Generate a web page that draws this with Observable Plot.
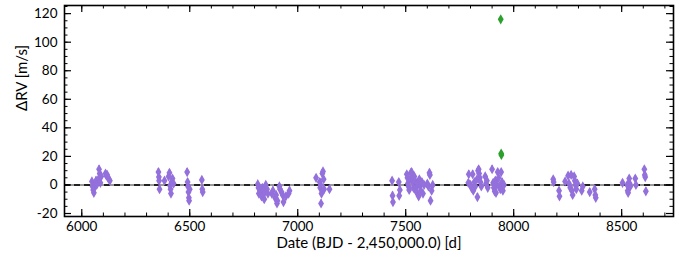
<!DOCTYPE html>
<html><head><meta charset="utf-8">
<script src="https://cdn.jsdelivr.net/npm/d3@7"></script>
<script src="https://cdn.jsdelivr.net/npm/@observablehq/plot@0.6"></script>
<style>body{margin:0;background:#fff}</style>
</head><body><div id="chart"></div>
<script>
const dates = [
6047,6050,6053,6056,6058,6062,6066,6069,6080,6083,6079,6086,6090,6110,6114,6118,6124,6130,
6355,6357,6358,6360,6383,6402,6406,6409,6411,6413,6416,6420,6425,6488,6490,6492,6494,6496,6497,6500,6556,6558,6560,
6815,6818,6820,6825,6832,6836,6840,6845,6848,6852,6858,6862,6880,6885,6895,6900,6904,6906,6915,6918,6925,6930,6934,6945,6958,6962,
7085,7102,7104,7106,7108,7110,7114,7117,7120,7122,7147,
7437,7439,7441,7468,7470,7473,7505,7508,7510,7513,7516,7520,7524,7527,7530,7533,7536,7540,7543,7546,7550,7555,7560,7563,7566,7570,7575,7580,7585,7600,7605,7610,7612,7615,7620,7625,
7790,7792,7800,7805,7810,7813,7818,7822,7830,7832,7835,7838,7840,7843,7846,7850,7868,7872,7876,7880,7900,7905,7908,7912,7915,7918,7922,7926,7930,7934,7938,7942,7946,7950,7955,
8183,8185,8210,8212,8238,8252,8256,8262,8266,8270,8273,8280,8283,8286,8290,8295,8315,8320,8352,8375,8378,8380,
8504,8526,8528,8530,8535,8537,8540,8563,8566,8605,8607,8609,8612
];
const rvs = [
2.5,-1,-3.5,-5.5,-1.5,1,3,0,11,8,4.5,1.5,6,8,6.5,7,4.5,3,
9,5.5,3,-3,3,6,8.5,-0.5,-3,-6,2,4.5,1,9,2,-1,-5,-9,-11,-3,3.5,-3,-5,
0.5,-2,-6,-3,-8,-2,-4,-10,-5,0,-3,-6,-6,-4,-9,-7,-13,-11,-1,-3,-5,-7,-12,-8,-6,-4,
5,2,-2,0,-13,-6,8,9.5,4,-3,-3,
3,-7.5,-12,2,-7.5,-3.5,7.5,5,1,-1,-3.5,4,8.5,9,6,2,-2,6,3,-3,-5,1,-8,4,-1,-4,2,-6,0,1,-1,8.5,7,-11,-4,0,
1.5,7.5,0,-2,7.5,-4,2,-1,4,-8.5,10,11,8,5,2,-1,6,1,3,-2,11,1.5,-2,-4.5,3,-5.5,0,9,5,-1,-3,9,2,-4,0,
4,2,-4,-8,2.5,6.5,1,-2,7,-4,-7,6,3,0,-3,1,-4,-1,-5,-3,-7,-9,
1.5,0,-4,-5.5,4.5,1,-1,4.5,0,11,7,5.5,-4.5
];
const errs = [
2,2.5,2,2.5,2,2,2.5,2,2.5,2,2,2.5,2,2,2.5,2,2,2,
2.5,2,2,2.5,2,2.5,2,2,2,2.5,2,2,2.5,2.5,2,2,2.5,2,2.5,2,2,2.5,2,
2,2.5,2,2,2.5,2,2,2.5,2,2,2.5,2,2,2.5,2,2,2.5,2,2,2.5,2,2,2.5,2,2,2.5,
2,2.5,2,2,2.5,2,2.5,2,2,2,2.5,
2,2.5,2,2,2.5,2,2,2.5,2,2,2.5,2,2,2.5,2,2,2.5,2,2,2.5,2,2,2.5,2,2,2.5,2,2,2.5,2,2,2.5,2,2.5,2,2,
2,2.5,2,2,2.5,2,2,2.5,2,2.5,2,2,2.5,2,2,2.5,2,2,2.5,2,2.5,2,2,2.5,2,2,2.5,2,2,2.5,2,2,2.5,2,2,
2,2.5,2,2.5,2,2,2.5,2,2,2.5,2,2,2.5,2,2,2.5,2,2,2.5,2,2.5,2,
2,2,2.5,2,2,2.5,2,2,2.5,2,2.5,2,2.5
];
const outDates = [7940, 7942, 7943];
const outRvs = [116, 22, 21];
const outErrs = [1, 1.2, 1.2];

const xTicks = [6000, 6500, 7000, 7500, 8000, 8500];
const yTicks = [-20, 0, 20, 40, 60, 80, 100, 120];
const xMinor = d3.range(6000, 8701, 100);
const yMinor = d3.range(-20, 126, 5);

const pts = dates.map((d, i) => ({date: d, rv: rvs[i], err: errs[i]}));
const outs = outDates.map((d, i) => ({date: d, rv: outRvs[i], err: outErrs[i]}));

const W = 689, H = 257, mL = 64, mR = 16, mT = 5, mB = 41;
const iw = W - mL - mR, ih = H - mT - mB;
const purple = "#9370db", green = "#2ca02c";

const chart = Plot.plot({
  width: W, height: H,
  marginLeft: mL, marginRight: mR, marginTop: mT, marginBottom: mB,
  style: {fontFamily: "Lato", fontSize: "13.5px", color: "black", background: "white"},
  x: {domain: [5920, 8740]},
  y: {domain: [-22.1, 125.7]},
  marks: [
    Plot.ruleY([0], {stroke: "#9a9a9a", strokeWidth: 2}),
    Plot.ruleY([0], {stroke: "#222", strokeWidth: 2, strokeDasharray: "6,4"}),
    Plot.ruleX(pts, {x: "date", y1: d => d.rv - d.err, y2: d => d.rv + d.err, stroke: purple, strokeWidth: 1.5}),
    Plot.dot(pts, {x: "date", y: "rv", symbol: "diamond", r: 3.1, fill: purple, stroke: null}),
    Plot.ruleX(outs, {x: "date", y1: d => d.rv - d.err, y2: d => d.rv + d.err, stroke: green, strokeWidth: 1.5}),
    Plot.dot(outs, {x: "date", y: "rv", symbol: "diamond", r: 3.1, fill: green, stroke: null}),
    // inward ticks
    Plot.ruleX(xTicks, {x: d => d, insetTop: ih - 7, stroke: "black", strokeWidth: 1.2}),
    Plot.ruleX(xTicks, {x: d => d, insetBottom: ih - 7, stroke: "black", strokeWidth: 1.2}),
    Plot.ruleX(xMinor, {x: d => d, insetTop: ih - 3.5, stroke: "black", strokeWidth: 1}),
    Plot.ruleX(xMinor, {x: d => d, insetBottom: ih - 3.5, stroke: "black", strokeWidth: 1}),
    Plot.ruleY(yTicks, {y: d => d, insetRight: iw - 7, stroke: "black", strokeWidth: 1.2}),
    Plot.ruleY(yTicks, {y: d => d, insetLeft: iw - 7, stroke: "black", strokeWidth: 1.2}),
    Plot.ruleY(yMinor, {y: d => d, insetRight: iw - 3.5, stroke: "black", strokeWidth: 1}),
    Plot.ruleY(yMinor, {y: d => d, insetLeft: iw - 3.5, stroke: "black", strokeWidth: 1}),
    Plot.axisX({ticks: xTicks, tickSize: 0, tickPadding: 5, tickFormat: d => String(d), label: null}),
    Plot.axisY({ticks: yTicks, tickSize: 0, tickPadding: 7, tickFormat: d => String(d), label: null}),
    Plot.text(["Date (BJD - 2,450,000.0) [d]"], {frameAnchor: "bottom", dy: 27, lineAnchor: "middle", fill: "black", fontSize: 15}),
    Plot.text(["\u0394RV [m/s]"], {frameAnchor: "left", dx: -42, rotate: -90, lineAnchor: "middle", fill: "black", fontSize: 15}),
    Plot.frame({stroke: "black", strokeWidth: 1.6})
  ]
});
document.getElementById("chart").appendChild(chart);
</script>
</body></html>
